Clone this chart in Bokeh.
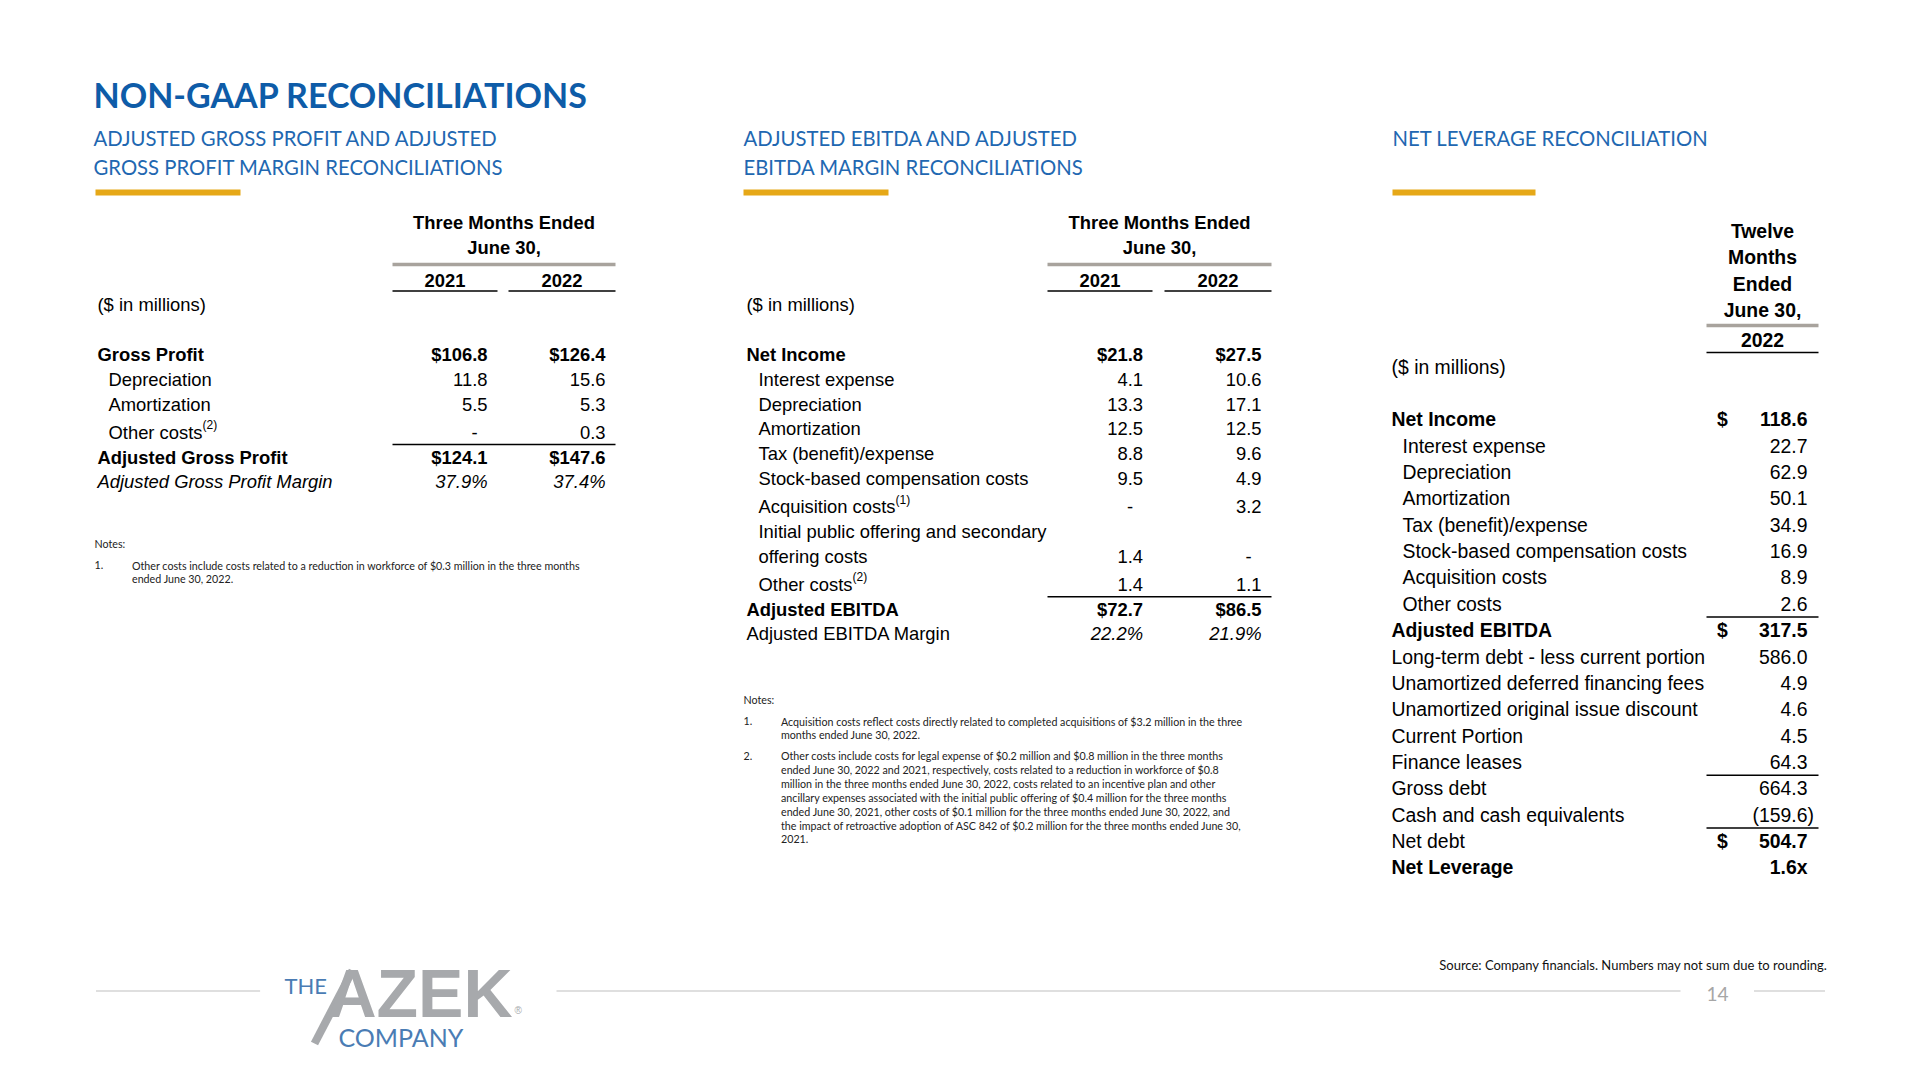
from bokeh.plotting import figure
from bokeh.models import Range1d
from bokeh.embed import file_html
from bokeh.resources import INLINE
from bokeh.core.properties import value

# ---------------- data ----------------
title = "NON-GAAP RECONCILIATIONS"
sub_gp = ["ADJUSTED GROSS PROFIT AND ADJUSTED", "GROSS PROFIT MARGIN RECONCILIATIONS"]
sub_eb = ["ADJUSTED EBITDA AND ADJUSTED", "EBITDA MARGIN RECONCILIATIONS"]
sub_nl = ["NET LEVERAGE RECONCILIATION"]

q_header = ["Three Months Ended", "June 30,"]
q_years = ["2021", "2022"]
ttm_header = ["Twelve", "Months", "Ended", "June 30,"]
ttm_year = "2022"
units = "($ in millions)"

gp_labels = ["Gross Profit", "Depreciation", "Amortization", "Other costs",
             "Adjusted Gross Profit", "Adjusted Gross Profit Margin"]
gp_2021 = [106.8, 11.8, 5.5, None, 124.1, 37.9]
gp_2022 = [126.4, 15.6, 5.3, 0.3, 147.6, 37.4]
gp_kind = ["total", "item", "item", "item", "total", "margin"]
gp_sup = [None, None, None, "(2)", None, None]

eb_labels = ["Net Income", "Interest expense", "Depreciation", "Amortization",
             "Tax (benefit)/expense", "Stock-based compensation costs", "Acquisition costs",
             "Initial public offering and secondary\noffering costs", "Other costs",
             "Adjusted EBITDA", "Adjusted EBITDA Margin"]
eb_2021 = [21.8, 4.1, 13.3, 12.5, 8.8, 9.5, None, 1.4, 1.4, 72.7, 22.2]
eb_2022 = [27.5, 10.6, 17.1, 12.5, 9.6, 4.9, 3.2, None, 1.1, 86.5, 21.9]
eb_kind = ["total", "item", "item", "item", "item", "item", "item", "item", "item",
           "total", "margin_plain"]
eb_sup = [None, None, None, None, None, None, "(1)", None, "(2)", None, None]

nl_labels = ["Net Income", "Interest expense", "Depreciation", "Amortization",
             "Tax (benefit)/expense", "Stock-based compensation costs", "Acquisition costs",
             "Other costs", "Adjusted EBITDA", "Long-term debt - less current portion",
             "Unamortized deferred financing fees", "Unamortized original issue discount",
             "Current Portion", "Finance leases", "Gross debt", "Cash and cash equivalents",
             "Net debt", "Net Leverage"]
nl_2022 = [118.6, 22.7, 62.9, 50.1, 34.9, 16.9, 8.9, 2.6, 317.5, 586.0, 4.9, 4.6, 4.5,
           64.3, 664.3, -159.6, 504.7, 1.6]
nl_kind = ["total_d", "item", "item", "item", "item", "item", "item", "item", "total_d",
           "plain", "plain", "plain", "plain", "plain", "plain", "plain", "debt_d", "lev"]

gp_notes = [("1.", ["Other costs include costs related to a reduction in workforce of $0.3 million in the three months",
                    "ended June 30, 2022."])]
eb_notes = [("1.", ["Acquisition costs reflect costs directly related to completed acquisitions of $3.2 million in the three",
                    "months ended June 30, 2022."]),
            ("2.", ["Other costs include costs for legal expense of $0.2 million and $0.8 million in the three months",
                    "ended June 30, 2022 and 2021, respectively, costs related to a reduction in workforce of $0.8",
                    "million in the three months ended June 30, 2022, costs related to an incentive plan and other",
                    "ancillary expenses associated with the initial public offering of $0.4 million for the three months",
                    "ended June 30, 2021, other costs of $0.1 million for the three months ended June 30, 2022, and",
                    "the impact of retroactive adoption of ASC 842 of $0.2 million for the three months ended June 30,",
                    "2021."])]
source_text = "Source: Company financials. Numbers may not sum due to rounding."
page_no = "14"

# ---------------- styles ----------------
ARIAL = "Liberation Sans"
CAL = "Lato"
BLUE_T = "#0E5CA8"
BLUE_S = "#2167B1"
GOLD = "#E6A817"
GREY_RULE = "#A8A39D"
FS = "18.4px"
FS_R = "19.4px"
NOTE_FS = "10.7px"

p = figure(width=1904, height=1064, x_range=Range1d(0, 1904), y_range=Range1d(1064, 0),
           output_backend="svg", toolbar_location=None, x_axis_type=None, y_axis_type=None,
           min_border=0, outline_line_color=None, background_fill_color="white",
           border_fill_color="white")


def txt(x, y, s, size, style="normal", align="left", color="#000000", font=ARIAL,
        baseline="middle"):
    p.text(x=[x], y=[y], text=[s], text_font=value(font), text_font_size=value(size),
           text_font_style=value(style), text_align=value(align),
           text_baseline=value(baseline), text_color=color)


def hline(x0, x1, y, w=1.5, color="#000000"):
    p.segment(x0=[x0], y0=[y], x1=[x1], y1=[y], line_width=w, line_color=color)


def fmt(v, prefix="", suffix=""):
    if v is None:
        return "-"
    s = f"{abs(v):.1f}"
    if v < 0:
        s = "(" + s + ")"
    return prefix + s + suffix


def row_ys(labels, sups, y0, step, extra):
    ys = []
    y = y0 - step
    for lab, sup in zip(labels, sups):
        n = lab.count("\n") + 1
        y += step * n + (extra if sup else 0)
        ys.append(y)
    return ys


# ---------------- titles ----------------
txt(93, 94, title, "34px", style="bold", color=BLUE_T, font=CAL)
for x0, lines, bar in [(93, sub_gp, (95, 240)), (743, sub_eb, (743, 888)), (1392, sub_nl, (1392, 1535))]:
    for k, line in enumerate(lines):
        txt(x0, 137 + k * 29.5, line, "20.3px", color=BLUE_S, font=CAL)
    p.quad(left=[bar[0]], right=[bar[1]], top=[189], bottom=[195], color=GOLD, line_color=None)


# ---------------- quarter tables ----------------
def quarter_table(labels, v21, v22, kinds, sups, sup_x, rule_row, x_lab, x_ind, cols, span, col_r):
    cx = (span[0] + span[1]) / 2
    txt(cx, 222, q_header[0], FS, style="bold", align="center")
    txt(cx, 246.5, q_header[1], FS, style="bold", align="center")
    hline(span[0], span[1], 264, w=3.5, color=GREY_RULE)
    for (a, b), yr in zip(cols, q_years):
        txt((a + b) / 2, 279.5, yr, FS, style="bold", align="center")
        hline(a, b, 290.5, w=1.5)
    txt(x_lab, 304, units, FS)
    ys = row_ys(labels, sups, 354, 24.8, 3.3)
    for i, (lab, k) in enumerate(zip(labels, kinds)):
        y = ys[i]
        lx = x_lab if k in ("total", "margin", "margin_plain") else x_ind
        lstyle = "bold" if k == "total" else ("italic" if k == "margin" else "normal")
        vstyle = "bold" if k == "total" else ("italic" if k.startswith("margin") else "normal")
        pre = "$" if k == "total" else ""
        suf = "%" if k.startswith("margin") else ""
        parts = lab.split("\n")
        for j, part in enumerate(parts):
            txt(lx, y - 24.8 * (len(parts) - 1 - j), part, FS, style=lstyle)
        if sups[i]:
            txt(sup_x[i], y - 7, sups[i], "12px")
        for v, r in zip((v21[i], v22[i]), col_r):
            xr = r - 10 if v is None else r
            txt(xr, y, fmt(v, pre, suf), FS, style=vstyle, align="right")
    yr_ = (ys[rule_row] + ys[rule_row - 1]) / 2
    hline(span[0], span[1], yr_, w=1.5)


quarter_table(gp_labels, gp_2021, gp_2022, gp_kind, gp_sup, {3: 202}, 4, 97, 108,
              [(392, 497), (508, 615)], (392, 615), [487, 605])
quarter_table(eb_labels, eb_2021, eb_2022, eb_kind, eb_sup, {6: 895, 8: 852}, 9, 746, 758,
              [(1047, 1152), (1164, 1271)], (1047, 1271), [1142.5, 1261])

# ---------------- net leverage table ----------------
ncx = 1762
for k, line in enumerate(ttm_header):
    txt(ncx, 230.5 + 26.4 * k, line, FS_R, style="bold", align="center")
hline(1706, 1818, 325, w=3.5, color=GREY_RULE)
txt(ncx, 339.5, ttm_year, FS_R, style="bold", align="center")
hline(1706, 1818, 352, w=1.5)
txt(1391, 366, units, FS_R)
nstep = 26.36
nys = [418.8 + nstep * i for i in range(len(nl_labels))]
for i, (lab, k) in enumerate(zip(nl_labels, nl_kind)):
    y = nys[i]
    lx = 1402 if k == "item" else 1391
    lstyle = "bold" if k in ("total_d", "lev") else "normal"
    vstyle = "bold" if k in ("total_d", "debt_d", "lev") else "normal"
    txt(lx, y, lab, FS_R, style=lstyle)
    if k in ("total_d", "debt_d"):
        txt(1722, y, "$", FS_R, style="bold", align="center")
    v = nl_2022[i]
    s = fmt(v, suffix="x" if k == "lev" else "")
    txt(1807 + (6.5 if v < 0 else 0), y, s, FS_R, style=vstyle, align="right")
for r in (8, 14, 16):
    hline(1706, 1818, nys[r] - nstep / 2, w=1.5)


# ---------------- notes ----------------
def notes(x0, y0, items, first, gap):
    txt(x0, y0, "Notes:", NOTE_FS, color="#222222", font=CAL)
    y = y0 + first
    for num, lines in items:
        txt(x0, y, num, NOTE_FS, color="#222222", font=CAL)
        for line in lines:
            txt(x0 + 37.5, y, line, NOTE_FS, color="#222222", font=CAL)
            y += 13.9
        y += gap


notes(94, 543, gp_notes, 21.5, 7)
notes(743, 699, eb_notes, 21.5, 6.9)

# ---------------- footer ----------------
for a, b in [(95.5, 259.6), (556, 1680), (1753.5, 1824.5)]:
    hline(a, b, 990.6, w=1.5, color="#D4D4D4")
txt(1827, 964, source_text, "13px", align="right", color="#111111", font=CAL)
txt(1717, 993, page_no, "19px", align="center", color="#A6A6A6", font=CAL)

# logo
LOGO_G = "#A7A9AC"
LOGO_B = "#4A7CB4"
p.segment(x0=[352], y0=[970], x1=[314], y1=[1043], line_width=8, line_color=LOGO_G)
txt(512, 992, "AZEK", "68px", style="bold", align="right", color=LOGO_G)
txt(284, 985, "THE", "22px", color=LOGO_B, font=CAL)
txt(338, 1036, "COMPANY", "25px", color=LOGO_B, font=CAL)
txt(514, 1010, "®", "10px", color=LOGO_G)

open("out.html", "w").write(file_html(p, INLINE))
